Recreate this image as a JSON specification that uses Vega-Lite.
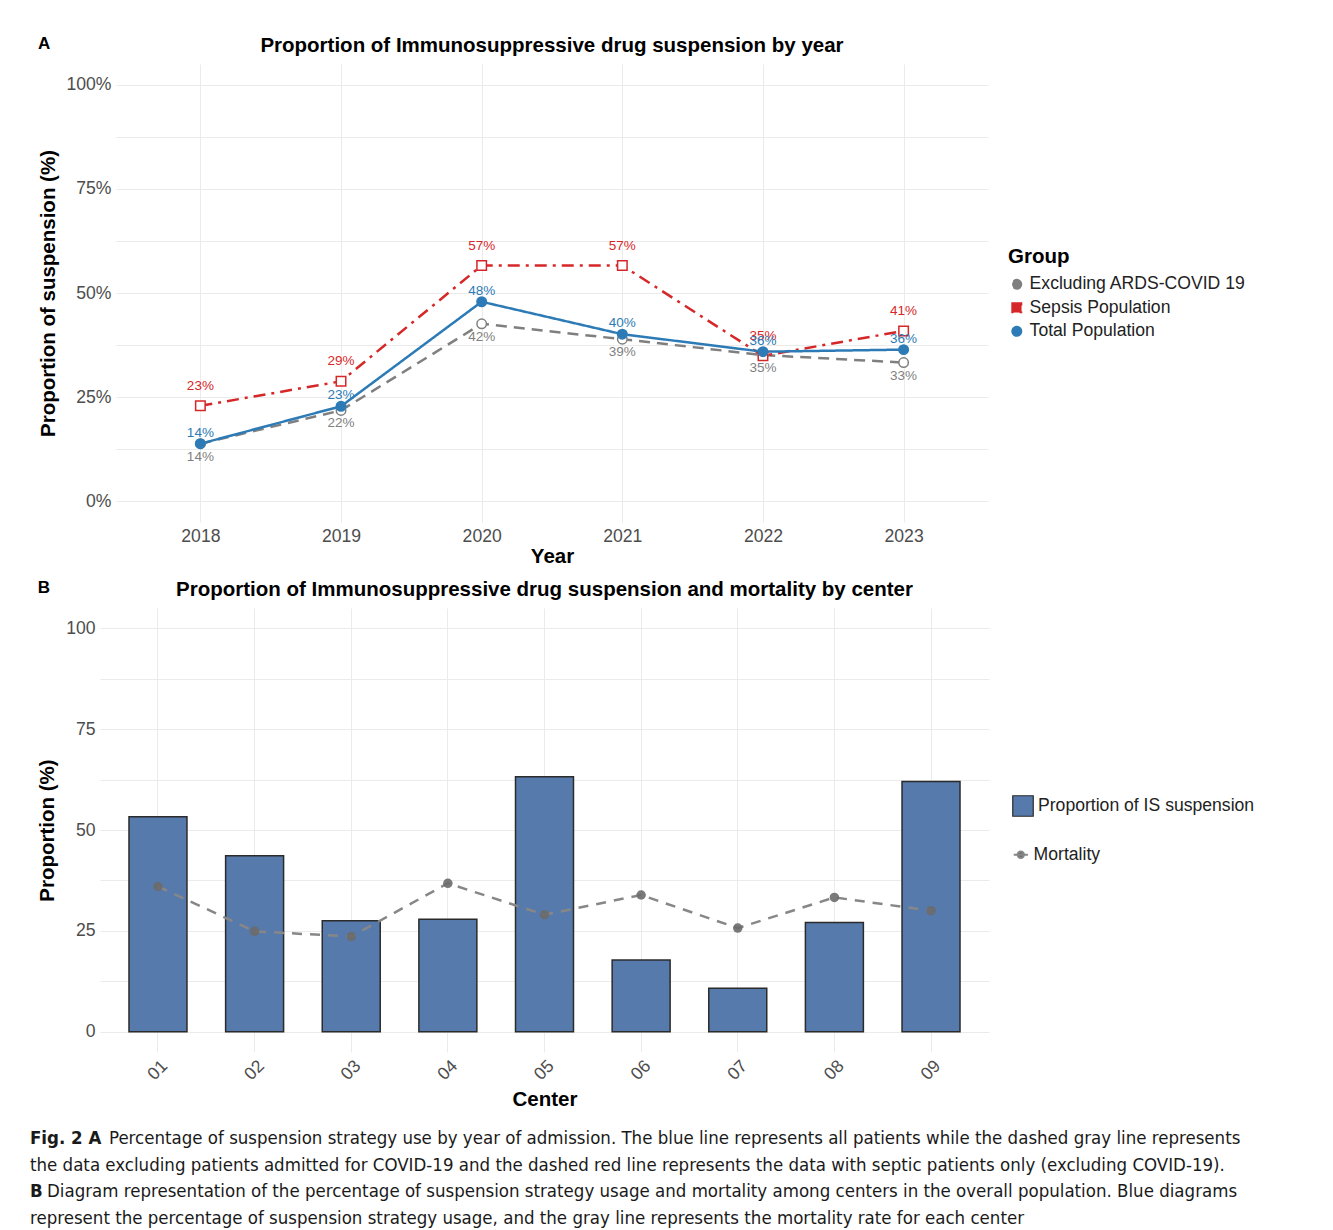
{
  "$schema": "https://vega.github.io/schema/vega-lite/v6.json",
  "background": "white",
  "padding": {"left": 30, "top": 34, "right": 5, "bottom": 0},
  "spacing": 10,
  "resolve": {
    "scale": {"color": "independent", "fill": "independent", "stroke": "independent", "shape": "independent", "strokeDash": "independent"},
    "legend": {"color": "independent", "fill": "independent", "stroke": "independent", "shape": "independent", "strokeDash": "independent"}
  },
  "config": {
    "font": "Liberation Sans",
    "view": {"stroke": null},
    "axis": {
      "grid": true, "gridColor": "#ebebeb", "gridWidth": 1, "domain": false, "ticks": false,
      "labelColor": "#4d4d4d", "labelFontSize": 17.6, "labelFont": "Liberation Sans",
      "titleFontSize": 20.5, "titleFontWeight": "bold", "titleColor": "#000000", "titleFont": "Liberation Sans"
    },
    "title": {"fontSize": 20.5, "fontWeight": "bold", "color": "#000000", "font": "Liberation Sans"},
    "legend": {"labelFontSize": 17.6, "labelColor": "#222222", "labelFont": "Liberation Sans", "titleFont": "Liberation Sans", "labelLimit": 400}
  },
  "vconcat": [
    {
      "title": {"text": "A", "anchor": "start", "frame": "bounds", "fontSize": 17, "offset": -17},
      "vconcat": [
        {
          "title": {"text": "Proportion of Immunosuppressive drug suspension by year", "offset": 8, "dx": 8},
          "width": 888,
          "height": 458,
          "data": {"values": [
            {"Year": "2018", "Group": "Excluding ARDS-COVID 19", "Value": 13.8, "Label": "14%"},
            {"Year": "2019", "Group": "Excluding ARDS-COVID 19", "Value": 21.8, "Label": "22%"},
            {"Year": "2020", "Group": "Excluding ARDS-COVID 19", "Value": 42.6, "Label": "42%"},
            {"Year": "2021", "Group": "Excluding ARDS-COVID 19", "Value": 38.9, "Label": "39%"},
            {"Year": "2022", "Group": "Excluding ARDS-COVID 19", "Value": 35.1, "Label": "35%"},
            {"Year": "2023", "Group": "Excluding ARDS-COVID 19", "Value": 33.3, "Label": "33%"},
            {"Year": "2018", "Group": "Sepsis Population", "Value": 22.9, "Label": "23%"},
            {"Year": "2019", "Group": "Sepsis Population", "Value": 28.8, "Label": "29%"},
            {"Year": "2020", "Group": "Sepsis Population", "Value": 56.6, "Label": "57%"},
            {"Year": "2021", "Group": "Sepsis Population", "Value": 56.6, "Label": "57%"},
            {"Year": "2022", "Group": "Sepsis Population", "Value": 34.9, "Label": "35%"},
            {"Year": "2023", "Group": "Sepsis Population", "Value": 40.9, "Label": "41%"},
            {"Year": "2018", "Group": "Total Population", "Value": 13.8, "Label": "14%"},
            {"Year": "2019", "Group": "Total Population", "Value": 22.8, "Label": "23%"},
            {"Year": "2020", "Group": "Total Population", "Value": 47.9, "Label": "48%"},
            {"Year": "2021", "Group": "Total Population", "Value": 40.1, "Label": "40%"},
            {"Year": "2022", "Group": "Total Population", "Value": 35.9, "Label": "36%"},
            {"Year": "2023", "Group": "Total Population", "Value": 36.4, "Label": "36%"}
          ]},
          "encoding": {
            "x": {"field": "Year", "type": "ordinal", "scale": {"type": "point", "padding": 0.6, "range": [16, 888]},
                  "axis": {"labelAngle": 0, "title": "Year", "labelPadding": 5, "titlePadding": 2}},
            "y": {"field": "Value", "type": "quantitative",
                  "scale": {"domain": [-5, 105], "nice": false, "zero": false},
                  "axis": {"values": [0, 12.5, 25, 37.5, 50, 62.5, 75, 87.5, 100], "offset": -16,
                           "labelExpr": "datum.value % 25 == 0 ? datum.value + '%' : ''",
                           "title": "Proportion of suspension (%)", "labelPadding": 5, "titlePadding": 8}},
            "color": {"field": "Group", "type": "nominal",
                      "scale": {"domain": ["Excluding ARDS-COVID 19", "Sepsis Population", "Total Population"],
                                "range": ["#7f7f7f", "#d62728", "#2c7bb6"]},
                      "legend": {"title": "Group", "titleFontSize": 20.5, "titleFontWeight": "bold", "titleColor": "#000000",
                                 "titlePadding": 8, "rowPadding": 4.5, "symbolSize": 90, "symbolStrokeWidth": 1.5,
                                 "orient": "none", "legendX": 908, "legendY": 183}}
          },
          "layer": [
            {
              "mark": {"type": "line", "strokeWidth": 2.5},
              "encoding": {
                "strokeDash": {"field": "Group", "type": "nominal",
                               "scale": {"domain": ["Excluding ARDS-COVID 19", "Sepsis Population", "Total Population"],
                                         "range": [[11, 7], [12, 6, 3, 6], [1, 0]]},
                               "legend": null}
              }
            },
            {
              "mark": {"type": "point", "filled": false, "strokeWidth": 1.5, "size": 90, "opacity": 1, "fill": "#ffffff"},
              "encoding": {
                "shape": {"field": "Group", "type": "nominal",
                          "scale": {"domain": ["Excluding ARDS-COVID 19", "Sepsis Population", "Total Population"],
                                    "range": ["circle", "square", "circle"]},
                          "legend": {"title": "Group", "titleFontSize": 20.5, "titleFontWeight": "bold", "titleColor": "#000000",
                                     "titlePadding": 8, "rowPadding": 4.5, "symbolSize": 90, "symbolStrokeWidth": 1.5,
                                     "orient": "none", "legendX": 908, "legendY": 183}}
              }
            },
            {
              "transform": [{"filter": "datum.Group == 'Total Population'"}],
              "mark": {"type": "point", "filled": true, "shape": "circle", "size": 90, "opacity": 1}
            },
            {
              "transform": [{"filter": "datum.Group == 'Excluding ARDS-COVID 19'"}],
              "mark": {"type": "text", "fontSize": 13.5, "dy": 13}
              ,"encoding": {"text": {"field": "Label"}}
            },
            {
              "transform": [{"filter": "datum.Group == 'Sepsis Population'"}],
              "mark": {"type": "text", "fontSize": 13.5, "dy": -20},
              "encoding": {"text": {"field": "Label"}}
            },
            {
              "transform": [{"filter": "datum.Group == 'Total Population'"}],
              "mark": {"type": "text", "fontSize": 13.5, "dy": -11},
              "encoding": {"text": {"field": "Label"}}
            }
          ]
        }
      ]
    },
    {
      "title": {"text": "B", "anchor": "start", "frame": "bounds", "fontSize": 17, "offset": -17},
      "vconcat": [
        {
          "title": {"text": "Proportion of Immunosuppressive drug suspension and mortality by center", "offset": 8},
          "width": 889,
          "height": 444,
          "data": {"values": [
            {"Center": "01", "IS": 53.3, "Mortality": 36.0},
            {"Center": "02", "IS": 43.6, "Mortality": 24.9},
            {"Center": "03", "IS": 27.5, "Mortality": 23.6},
            {"Center": "04", "IS": 27.9, "Mortality": 36.8},
            {"Center": "05", "IS": 63.2, "Mortality": 29.0},
            {"Center": "06", "IS": 17.8, "Mortality": 33.9},
            {"Center": "07", "IS": 10.8, "Mortality": 25.7},
            {"Center": "08", "IS": 27.1, "Mortality": 33.3},
            {"Center": "09", "IS": 62.0, "Mortality": 30.0}
          ]},
          "encoding": {
            "x": {"field": "Center", "type": "ordinal",
                  "scale": {"type": "band", "paddingInner": 0.4, "paddingOuter": 0.3},
                  "axis": {"labelAngle": -45, "labelAlign": "center", "labelBaseline": "middle", "labelPadding": 18,
                           "bandPosition": 0.5, "title": "Center", "titlePadding": 6}}
          },
          "layer": [
            {
              "mark": {"type": "bar", "stroke": "#2b2b2b", "strokeWidth": 1.5},
              "encoding": {
                "y": {"field": "IS", "type": "quantitative",
                      "scale": {"domain": [-5, 105], "nice": false, "zero": false},
                      "axis": {"values": [0, 12.5, 25, 37.5, 50, 62.5, 75, 87.5, 100],
                               "labelExpr": "datum.value % 25 == 0 ? datum.value : ''",
                               "title": "Proportion (%)", "labelPadding": 5, "titlePadding": 8}},
                "y2": {"datum": 0},
                "fill": {"datum": "Proportion of IS suspension",
                         "scale": {"range": ["#567aab"]},
                         "legend": {"title": null, "symbolType": "square", "symbolSize": 420,
                                    "symbolStrokeColor": "#2b2b2b", "symbolStrokeWidth": 1.2,
                                    "orient": "none", "legendX": 912, "legendY": 187}}
              }
            },
            {
              "mark": {"type": "line", "strokeDash": [10, 8], "strokeWidth": 2.5},
              "encoding": {
                "y": {"field": "Mortality", "type": "quantitative"},
                "stroke": {"datum": "Mortality", "scale": {"range": ["#878787"]},
                           "legend": {"title": null,
                                      "symbolType": "M-1,0L1,0M0.45,0A0.45,0.45,0,1,1,-0.45,0A0.45,0.45,0,1,1,0.45,0Z",
                                      "symbolSize": 200, "symbolFillColor": "#6b6b6b", "symbolStrokeWidth": 2,
                                      "orient": "none", "legendX": 912, "legendY": 238}}
              }
            },
            {
              "mark": {"type": "point", "filled": true, "size": 90, "color": "#6b6b6b", "opacity": 0.9},
              "encoding": {"y": {"field": "Mortality", "type": "quantitative"}}
            }
          ]
        }
      ]
    },
    {
      "width": 1240,
      "height": 116,
      "data": {"values": [
        {"line": 1, "bold": "Fig. 2  A", "text": "Percentage of suspension strategy use by year of admission. The blue line represents all patients while the dashed gray line represents"},
        {"line": 2, "bold": "", "text": "the data excluding patients admitted for COVID-19 and the dashed red line represents the data with septic patients only (excluding COVID-19)."},
        {"line": 3, "bold": "B", "text": "Diagram representation of the percentage of suspension strategy usage and mortality among centers in the overall population. Blue diagrams"},
        {"line": 4, "bold": "", "text": "represent the percentage of suspension strategy usage, and the gray line represents the mortality rate for each center"}
      ]},
      "encoding": {
        "y": {"field": "line", "type": "ordinal", "axis": null, "scale": {"type": "point", "padding": 0.67}}
      },
      "layer": [
        {
          "mark": {"type": "text", "align": "left", "baseline": "middle", "x": 0, "dx": -70, "fontSize": 18.5, "fontWeight": "bold",
                   "font": "DejaVu Sans Condensed, sans-serif", "color": "#1a1a1a"},
          "encoding": {"text": {"field": "bold"}}
        },
        {
          "transform": [{"filter": "datum.line == 1"}],
          "mark": {"type": "text", "align": "left", "baseline": "middle", "x": 0, "dx": 9, "fontSize": 18.5,
                   "font": "DejaVu Sans Condensed, sans-serif", "color": "#1a1a1a"},
          "encoding": {"text": {"field": "text"}}
        },
        {
          "transform": [{"filter": "datum.line == 3"}],
          "mark": {"type": "text", "align": "left", "baseline": "middle", "x": 0, "dx": -53, "fontSize": 18.5,
                   "font": "DejaVu Sans Condensed, sans-serif", "color": "#1a1a1a"},
          "encoding": {"text": {"field": "text"}}
        },
        {
          "transform": [{"filter": "datum.line == 2 || datum.line == 4"}],
          "mark": {"type": "text", "align": "left", "baseline": "middle", "x": 0, "dx": -70, "fontSize": 18.5,
                   "font": "DejaVu Sans Condensed, sans-serif", "color": "#1a1a1a"},
          "encoding": {"text": {"field": "text"}}
        }
      ]
    }
  ]
}
